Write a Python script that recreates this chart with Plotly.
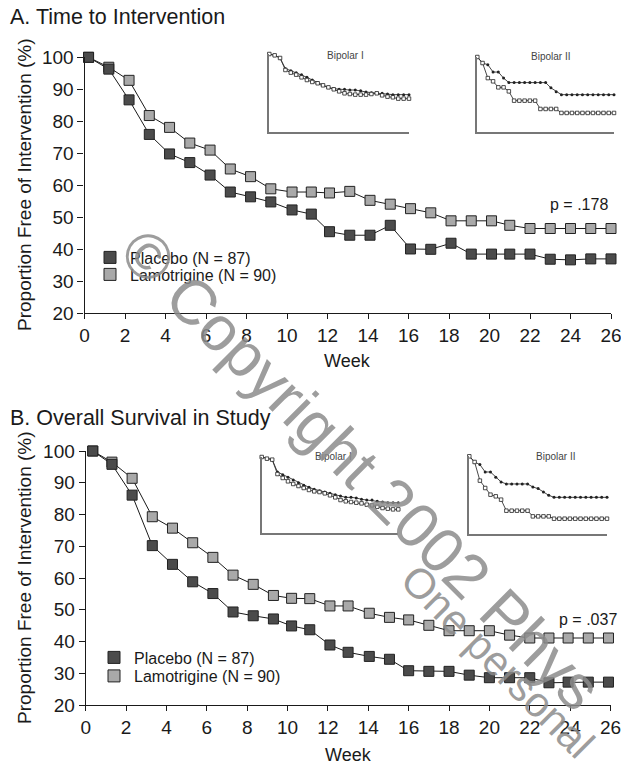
import plotly.graph_objects as go

# ---------------- data ----------------
weeks_a = [0.2, 1.2, 2.2, 3.2, 4.2, 5.2, 6.2, 7.2, 8.2, 9.2, 10.25, 11.2, 12.1, 13.1,
           14.1, 15.1, 16.1, 17.1, 18.1, 19.1, 20.1, 21.0, 22.0, 23.0, 24.0, 25.0, 26.0]
placebo_a = [100, 96.3, 86.7, 75.9, 69.8, 67.1, 63.2, 57.9, 56.4, 54.8, 52.3, 51.0, 45.5, 44.4,
             44.4, 47.5, 40.1, 40.0, 41.9, 38.5, 38.5, 38.5, 38.5, 36.9, 36.7, 37.0, 37.0]
lamo_a = [100, 96.9, 92.8, 81.8, 78.1, 73.2, 71.0, 65.1, 62.7, 58.9, 57.9, 57.9, 57.6, 58.1,
          55.3, 54.1, 52.7, 51.4, 48.9, 48.9, 48.9, 47.5, 46.5, 46.5, 46.5, 46.5, 46.5]

weeks_b = [0.35, 1.3, 2.3, 3.3, 4.3, 5.3, 6.3, 7.3, 8.3, 9.3, 10.2, 11.1, 12.1, 13.0,
           14.05, 15.05, 16.0, 17.0, 18.0, 19.0, 20.0, 21.0, 22.0, 22.95, 23.9, 24.9, 25.9]
placebo_b = [100, 95.8, 86.1, 70.2, 64.3, 58.8, 55.1, 49.3, 48.1, 47.1, 44.9, 43.7, 38.9, 36.6,
             35.3, 34.4, 30.8, 30.6, 30.6, 29.4, 28.6, 28.6, 28.6, 27.0, 27.2, 27.2, 27.2]
lamo_b = [100, 96.5, 91.4, 79.3, 75.7, 71.1, 66.5, 60.9, 58.0, 54.5, 53.6, 53.5, 51.2, 51.2,
          48.9, 47.6, 46.8, 45.1, 43.4, 43.4, 43.4, 42.0, 41.1, 41.1, 41.1, 41.1, 41.1]

inset_weeks = list(range(27))
a_bp1_lamo = [100, 98.3, 94.9, 81.3, 78.7, 76.2, 73.6, 70.2, 66.8, 63.4, 60, 57.4, 55.7, 54.9,
              54.9, 54, 54, 53.2, 51.5, 50.6, 49.8, 49.8, 48.9, 48.1, 48.1, 48.1, 48.1]
a_bp1_plac = [100, 98.3, 94.9, 79.6, 76.2, 73.6, 70.2, 66.8, 64.3, 62.6, 60, 57.4, 54.9, 52.3,
              49.8, 48.9, 48.1, 48.1, 48.1, 48.9, 49.8, 47.2, 45.5, 44.7, 43, 43, 43]
a_bp2_lamo = [100, 92, 89.8, 80, 80, 72, 66, 66, 66, 66, 66, 66, 66, 66,
              59, 54, 50, 50, 50, 50, 50, 50, 50, 50, 50, 50, 50]
a_bp2_plac = [100, 92, 72, 67.7, 59.7, 59.7, 54.4, 42, 42, 42, 42, 42, 31, 31,
              31, 31, 25.7, 25.7, 25.7, 25.7, 25.7, 25.7, 25.7, 25.7, 25.7, 25.7, 25.7]
b_bp1_lamo = [100, 97.8, 96.5, 80.3, 76.8, 73.2, 69.7, 66.2, 62.7, 60.1, 57.5, 55.7, 53.9, 52.2,
              50.4, 48.7, 46.9, 46.9, 46.1, 44.3, 43.4, 43.4, 41.7, 40.8, 39.9, 39.9, 39.9]
b_bp1_plac = [100, 97.8, 96.5, 77.6, 72.4, 68, 64.5, 61.8, 59.2, 56.6, 54.8, 53.9, 52.2, 49.6,
              46.9, 43.4, 41.7, 40.8, 39.9, 39, 37.3, 36.4, 34.6, 32.9, 32, 31.1, 31.1]
b_bp2_lamo = [100, 92.7, 89.3, 79.8, 79.8, 72.9, 67, 64.4, 64.4, 64.4, 64.4, 64.4, 60.5, 58.4,
              54.1, 49.8, 47.2, 47.2, 47.2, 47.2, 47.2, 47.2, 47.2, 47.2, 47.2, 47.2, 47.2]
b_bp2_plac = [100, 92.7, 68.7, 59.2, 50.6, 48.5, 44.2, 30, 30, 30, 30, 30, 22.7, 22.7,
              22.7, 22.7, 19.7, 19.7, 19.7, 19.7, 19.7, 19.7, 19.7, 19.7, 19.7, 19.7, 19.7]

x_ticks = list(range(0, 27, 2))
y_ticks = list(range(20, 101, 10))
placebo_label = "Placebo (N = 87)"
lamo_label = "Lamotrigine (N = 90)"

# ---------------- layout helpers ----------------
W, H = 621, 770
FONT = "Liberation Sans, Arial, Helvetica, sans-serif"
INK = "#1a1a1a"
PLAC_FILL = "#4b4b4b"
LAMO_FILL = "#a9a9a9"


def px(x):
    return x / W


def py(y):
    return 1 - y / H


fig = go.Figure()


def main_traces(xs, plac, lamo, xa, ya):
    for vals, fill in ((lamo, LAMO_FILL), (plac, PLAC_FILL)):
        fig.add_trace(go.Scatter(
            x=xs, y=vals, xaxis=xa, yaxis=ya, mode="lines+markers",
            line=dict(color=INK, width=1),
            marker=dict(symbol="square", size=10, color=fill, line=dict(color="#222", width=1)),
            cliponaxis=False, showlegend=False, hoverinfo="x+y"))


def inset_traces(lamo, plac, xa, ya):
    fig.add_trace(go.Scatter(
        x=inset_weeks, y=lamo, xaxis=xa, yaxis=ya, mode="lines+markers",
        line=dict(color="#333", width=0.9),
        marker=dict(symbol="circle", size=3, color="#222"),
        cliponaxis=False, showlegend=False))
    fig.add_trace(go.Scatter(
        x=inset_weeks, y=plac, xaxis=xa, yaxis=ya, mode="lines+markers",
        line=dict(color="#333", width=0.9),
        marker=dict(symbol="square", size=3.5, color="white", line=dict(color="#222", width=0.8)),
        cliponaxis=False, showlegend=False))


main_traces(weeks_a, placebo_a, lamo_a, "x", "y")
main_traces(weeks_b, placebo_b, lamo_b, "x2", "y2")
inset_traces(a_bp1_lamo, a_bp1_plac, "x3", "y3")
inset_traces(a_bp2_lamo, a_bp2_plac, "x4", "y4")
inset_traces(b_bp1_lamo, b_bp1_plac, "x5", "y5")
inset_traces(b_bp2_lamo, b_bp2_plac, "x6", "y6")

# legend-only entries (one legend per row)
for name, fill, leg, xa, ya in ((placebo_label, PLAC_FILL, "legend", "x", "y"),
                                (lamo_label, LAMO_FILL, "legend2", "x", "y"),
                                (placebo_label, PLAC_FILL, "legend3", "x2", "y2"),
                                (lamo_label, LAMO_FILL, "legend4", "x2", "y2")):
    fig.add_trace(go.Scatter(
        x=[None], y=[None], xaxis=xa, yaxis=ya, mode="markers", name=name,
        marker=dict(symbol="square", size=12, color=fill, line=dict(color="#222", width=1)),
        showlegend=True, legend=leg))

main_x = dict(range=[0, 26], tickvals=x_ticks, showline=True, linecolor=INK, linewidth=1.2,
              ticks="outside", ticklen=5, tickwidth=1, tickcolor=INK, showgrid=False,
              zeroline=False, tickfont=dict(family=FONT, size=19, color=INK), fixedrange=True,
              ticklabeloverflow="allow", automargin=False)
main_y = dict(range=[20, 100], tickvals=y_ticks, showline=True, linecolor=INK, linewidth=1.2,
              ticks="outside", ticklen=6, tickwidth=1, tickcolor=INK, showgrid=False,
              zeroline=False, tickfont=dict(family=FONT, size=19, color=INK), fixedrange=True,
              ticklabeloverflow="allow", automargin=False)
inset_ax = dict(showline=True, linecolor="#777", linewidth=1.5, ticks="", showticklabels=False,
                showgrid=False, zeroline=False, fixedrange=True, automargin=False)

layout = dict(
    width=W, height=H, autosize=False,
    margin=dict(l=0, r=0, t=0, b=0, pad=0, autoexpand=False),
    paper_bgcolor="white", plot_bgcolor="rgba(0,0,0,0)",
    font=dict(family=FONT, color=INK),
    xaxis=dict(main_x, domain=[px(84.5), px(611)], anchor="y"),
    yaxis=dict(main_y, domain=[py(313.3), py(57.3)], anchor="x"),
    xaxis2=dict(main_x, domain=[px(85.7), px(610.5)], anchor="y2"),
    yaxis2=dict(main_y, domain=[py(705), py(451)], anchor="x2"),
    xaxis3=dict(inset_ax, range=[0, 26], domain=[px(269.3), px(409)], anchor="y3"),
    yaxis3=dict(inset_ax, range=[0, 100], domain=[py(132.3), py(54)], anchor="x3"),
    xaxis4=dict(inset_ax, range=[0, 26], domain=[px(477.3), px(614)], anchor="y4"),
    yaxis4=dict(inset_ax, range=[0, 100], domain=[py(132.3), py(57)], anchor="x4"),
    xaxis5=dict(inset_ax, range=[0, 26], domain=[px(261.7), px(398.3)], anchor="y5"),
    yaxis5=dict(inset_ax, range=[0, 100], domain=[py(533), py(457)], anchor="x5"),
    xaxis6=dict(inset_ax, range=[0, 26], domain=[px(469.3), px(607)], anchor="y6"),
    yaxis6=dict(inset_ax, range=[0, 100], domain=[py(534), py(456.3)], anchor="x6"),
)

leg_common = dict(bgcolor="rgba(0,0,0,0)", borderwidth=0, xanchor="left", yanchor="middle",
                  font=dict(family=FONT, size=16, color=INK), itemwidth=30)
layout["legend"] = dict(leg_common, x=px(90), y=py(257.5))
layout["legend2"] = dict(leg_common, x=px(90), y=py(274.5))
layout["legend3"] = dict(leg_common, x=px(94), y=py(657.5))
layout["legend4"] = dict(leg_common, x=px(94), y=py(676))
fig.update_layout(**layout)


def note(text, x, y, size, xanchor="center", yanchor="middle", angle=0, color=INK):
    fig.add_annotation(text=text, x=px(x), y=py(y), xref="paper", yref="paper",
                       xanchor=xanchor, yanchor=yanchor, showarrow=False, textangle=angle,
                       font=dict(family=FONT, size=size, color=color))


note("A. Time to Intervention", 8, 17, 21.5, xanchor="left")
note("B. Overall Survival in Study", 8, 418, 21.5, xanchor="left")
note("Proportion Free of Intervention (%)", 24, 185, 19, angle=-90)
note("Proportion Free of Intervention (%)", 24, 578, 19, angle=-90)
note("Week", 347.5, 361, 18)
note("Week", 348, 755, 18)
note("p = .178", 610, 205, 16, xanchor="right")
note("p = .037", 619, 619, 16, xanchor="right")
note("Bipolar I", 345.5, 55.5, 10, color="#444")
note("Bipolar II", 550, 56, 10, color="#444")
note("Bipolar I", 333, 456.7, 10, color="#444")
note("Bipolar II", 555, 456.7, 10, color="#444")

# watermark
note("© Copyright 2002 Phys", 361, 469, 63, angle=45, color="rgba(140,140,140,0.85)")
note("One personal", 498, 661, 42, angle=45, color="rgba(140,140,140,0.85)")

fig.write_html(
    "out.html",
    config={"displayModeBar": False, "responsive": False},
    post_script="document.body.style.margin='0px';document.body.style.overflow='hidden';",
)
